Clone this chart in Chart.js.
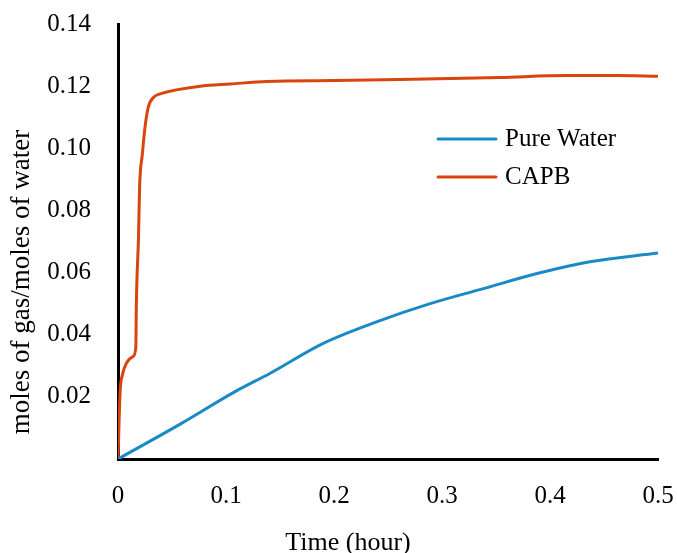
<!DOCTYPE html>
<html lang="en">
<head>
  <meta charset="UTF-8">
  <title>Gas uptake</title>
  <script src="https://cdn.jsdelivr.net/npm/chart.js"></script>
  <style>
    html, body { margin: 0; padding: 0; background: #fff; }
  </style>
</head>
<body>
  <canvas id="gas-chart" width="677" height="553"></canvas>
  <script>
    // Data
    const seriesNames = ['Pure Water', 'CAPB'];
    const seriesColors = ['#1a8ac6', '#d9440f'];

    const waterTime  = [0, 0.058, 0.108, 0.141, 0.19, 0.24, 0.289, 0.339, 0.388, 0.437, 0.5];
    const waterMoles = [0, 0.0113, 0.0216, 0.0276, 0.0372, 0.0442, 0.050, 0.0549, 0.0597, 0.0635, 0.0663];

    const capbTime  = [0, 0.001, 0.002, 0.004, 0.008, 0.014, 0.0165, 0.017, 0.019, 0.020, 0.0225, 0.025,
                       0.028, 0.033, 0.039, 0.054, 0.076, 0.104, 0.138, 0.2, 0.261, 0.354, 0.415, 0.462, 0.5];
    const capbMoles = [0, 0.012, 0.022, 0.027, 0.031, 0.033, 0.036, 0.050, 0.0716, 0.0876, 0.098, 0.1068,
                       0.1132, 0.1164, 0.1175, 0.1188, 0.120, 0.1207, 0.1215, 0.1218, 0.1221, 0.1228, 0.1234, 0.1234, 0.1232];

    const xTicks = [0, 0.1, 0.2, 0.3, 0.4, 0.5];
    const yTicks = [0.02, 0.04, 0.06, 0.08, 0.10, 0.12, 0.14];
    const xTitle = 'Time (hour)';
    const yTitle = 'moles of gas/moles of water';

    const serif = '"Liberation Serif", "Times New Roman", serif';
    Chart.defaults.font.family = serif;
    Chart.defaults.font.size = 25;
    Chart.defaults.color = '#000';

    const toPoints = (xs, ys) => xs.map((x, i) => ({ x: x, y: ys[i] }));

    // axis titles and the legend sit at fixed spots, as in the original
    const extraText = {
      id: 'extraText',
      afterDraw(chart) {
        const ctx = chart.ctx;
        ctx.save();
        ctx.fillStyle = '#000';
        ctx.font = '26px ' + serif;
        ctx.textAlign = 'center';
        ctx.textBaseline = 'alphabetic';
        ctx.fillText(xTitle, 348, 550);
        ctx.save();
        ctx.font = '27px ' + serif;
        ctx.translate(22, 282);
        ctx.rotate(-Math.PI / 2);
        ctx.textBaseline = 'middle';
        ctx.fillText(yTitle, 0, 0);
        ctx.restore();

        ctx.font = '25px ' + serif;
        ctx.textAlign = 'left';
        ctx.textBaseline = 'middle';
        chart.data.datasets.forEach((ds, i) => {
          const y = 139 + i * 38;
          ctx.strokeStyle = ds.borderColor;
          ctx.lineWidth = 3;
          ctx.lineCap = 'round';
          ctx.beginPath();
          ctx.moveTo(438, y);
          ctx.lineTo(496, y);
          ctx.stroke();
          ctx.fillText(ds.label, 505, y);
        });
        ctx.restore();
      }
    };

    // invisible tick marks give the label gap without padding the chart area
    const hiddenGrid = len => ({
      drawOnChartArea: false,
      drawTicks: true,
      tickLength: len,
      color: 'rgba(0,0,0,0)'
    });

    new Chart(document.getElementById('gas-chart'), {
      type: 'line',
      data: {
        datasets: [
          {
            label: seriesNames[0],
            data: toPoints(waterTime, waterMoles),
            borderColor: seriesColors[0],
            borderWidth: 3,
            pointRadius: 0,
            cubicInterpolationMode: 'monotone'
          },
          {
            label: seriesNames[1],
            data: toPoints(capbTime, capbMoles),
            borderColor: seriesColors[1],
            borderWidth: 3,
            pointRadius: 0,
            cubicInterpolationMode: 'monotone'
          }
        ]
      },
      options: {
        responsive: false,
        animation: false,
        layout: { padding: { left: 0, top: 24, right: 19, bottom: 0 } },
        plugins: {
          legend: { display: false },
          tooltip: { enabled: false }
        },
        scales: {
          x: {
            type: 'linear',
            min: 0,
            max: 0.5,
            grid: hiddenGrid(22),
            border: { display: true, color: '#000', width: 3 },
            afterBuildTicks: scale => { scale.ticks = xTicks.map(v => ({ value: v })); },
            afterFit: scale => { scale.height = 94; },
            ticks: {
              padding: 0,
              maxRotation: 0,
              callback: v => String(v)
            }
          },
          y: {
            min: 0,
            max: 0.14,
            grid: hiddenGrid(27),
            border: { display: true, color: '#000', width: 3 },
            afterBuildTicks: scale => { scale.ticks = yTicks.map(v => ({ value: v })); },
            afterFit: scale => { scale.width = 118; },
            ticks: {
              padding: 0,
              callback: v => v.toFixed(2)
            }
          }
        }
      },
      plugins: [extraText]
    });
  </script>
</body>
</html>
